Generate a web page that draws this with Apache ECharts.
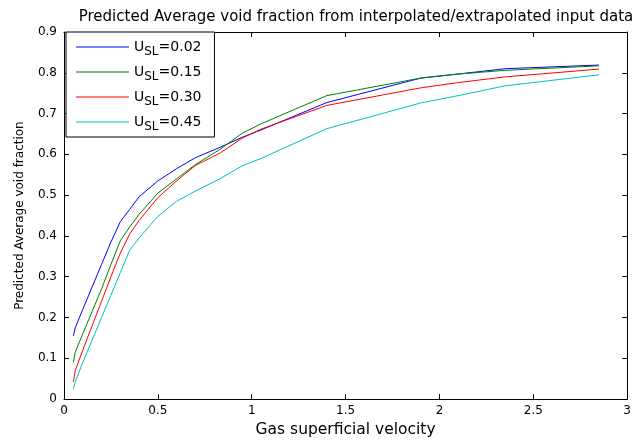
<!DOCTYPE html>
<html>
<head>
<meta charset="utf-8">
<script src="https://cdn.jsdelivr.net/npm/echarts@6/dist/echarts.min.js"></script>
<style>
html,body{margin:0;padding:0;background:#fff;}
#c{width:634px;height:443px;}
</style>
</head>
<body>
<div id="c"></div>
<script>
var xVals = [0.05, 0.06, 0.1, 0.15, 0.2, 0.25, 0.3, 0.35, 0.4, 0.5, 0.6, 0.7, 0.83, 0.95, 1.05, 1.4, 1.9, 2.1, 2.35, 2.85];
var usl002 = [0.155, 0.175, 0.22, 0.275, 0.33, 0.385, 0.435, 0.465, 0.496, 0.535, 0.565, 0.592, 0.617, 0.642, 0.66, 0.727, 0.787, 0.797, 0.81, 0.819];
var usl015 = [0.09, 0.115, 0.16, 0.215, 0.27, 0.33, 0.388, 0.422, 0.453, 0.505, 0.54, 0.575, 0.612, 0.652, 0.675, 0.744, 0.787, 0.797, 0.806, 0.817];
var usl030 = [0.042, 0.07, 0.12, 0.18, 0.24, 0.30, 0.358, 0.405, 0.438, 0.494, 0.535, 0.573, 0.603, 0.64, 0.662, 0.72, 0.763, 0.776, 0.79, 0.809];
var usl045 = [0.026, 0.042, 0.09, 0.145, 0.2, 0.255, 0.31, 0.365, 0.395, 0.448, 0.485, 0.51, 0.54, 0.572, 0.59, 0.663, 0.726, 0.744, 0.768, 0.795];
var seriesNames = ['0.02', '0.15', '0.30', '0.45'];
var seriesColors = ['#0000ff', '#008000', '#ff0000', '#00bfbf'];
var xTicks = [0, 0.5, 1, 1.5, 2, 2.5, 3];
var yTicks = [0, 0.1, 0.2, 0.3, 0.4, 0.5, 0.6, 0.7, 0.8, 0.9];

var allY = [usl002, usl015, usl030, usl045];
var FONT = 'DejaVu Sans';

function pairs(ys) { return xVals.map(function (x, i) { return [x, ys[i]]; }); }

var series = allY.map(function (ys, k) {
  return {
    name: seriesNames[k],
    type: 'line',
    data: pairs(ys),
    symbol: 'none',
    showSymbol: false,
    smooth: false,
    color: seriesColors[k],
    lineStyle: { color: seriesColors[k], width: 1 },
    itemStyle: { color: seriesColors[k] },
    xAxisIndex: 0, yAxisIndex: 0,
    animation: false
  };
});

var axisBase = {
  min: 0,
  axisLine: { show: true, onZero: false, lineStyle: { color: '#000', width: 1 } },
  axisTick: { show: true, inside: true, length: 5, lineStyle: { color: '#000' } },
  splitLine: { show: false }
};

var chart = echarts.init(document.getElementById('c'), null, { renderer: 'canvas' });
chart.setOption({
  backgroundColor: '#fff',
  animation: false,
  title: {
    text: 'Predicted Average void fraction from interpolated/extrapolated input data',
    left: 351, top: 5, textAlign: 'center',
    textStyle: { fontFamily: FONT, fontSize: 15, fontWeight: 'normal', color: '#000' }
  },
  grid: { left: 64, right: 3, top: 32, bottom: 39, containLabel: false },
  legend: {
    orient: 'vertical',
    left: 66, top: 32,
    padding: [8, 13, 4, 10],
    itemGap: 7,
    itemWidth: 53, itemHeight: 1,
    icon: 'rect',
    borderColor: '#000', borderWidth: 1,
    backgroundColor: '#fff',
    data: seriesNames.map(function (n, k) {
      return { name: n, icon: 'rect', itemStyle: { color: seriesColors[k], borderWidth: 0 } };
    }),
    formatter: function (n) { return '{a|U}{b|SL}{a|=' + n + '}'; },
    textStyle: {
      fontFamily: FONT, color: '#000', fontSize: 14,
      rich: {
        a: { fontFamily: FONT, fontSize: 14, color: '#000', lineHeight: 14, verticalAlign: 'top' },
        b: { fontFamily: FONT, fontSize: 12, color: '#000', lineHeight: 12, padding: [6, 0, 0, 0], verticalAlign: 'top' }
      }
    }
  },
  xAxis: [
    Object.assign({}, axisBase, {
      type: 'value', max: 3, interval: 0.5, position: 'bottom',
      name: 'Gas superficial velocity', nameLocation: 'middle', nameGap: 21,
      nameTextStyle: { fontFamily: FONT, fontSize: 15.5, color: '#000' },
      axisLabel: { fontFamily: FONT, fontSize: 12, color: '#000', margin: 6,
        formatter: function (v) { return String(+v.toFixed(1)); } }
    }),
    Object.assign({}, axisBase, {
      type: 'value', max: 3, interval: 0.5, position: 'top',
      axisLabel: { show: false }
    })
  ],
  yAxis: [
    Object.assign({}, axisBase, {
      type: 'value', max: 0.9, interval: 0.1, position: 'left',
      name: 'Predicted Average void fraction', nameLocation: 'middle', nameGap: 38,
      nameTextStyle: { fontFamily: FONT, fontSize: 12, color: '#000' },
      axisLabel: { fontFamily: FONT, fontSize: 12, color: '#000', margin: 7,
        formatter: function (v) { return String(+v.toFixed(1)); } }
    }),
    Object.assign({}, axisBase, {
      type: 'value', max: 0.9, interval: 0.1, position: 'right',
      axisLabel: { show: false }
    })
  ],
  series: series
});
</script>
</body>
</html>
